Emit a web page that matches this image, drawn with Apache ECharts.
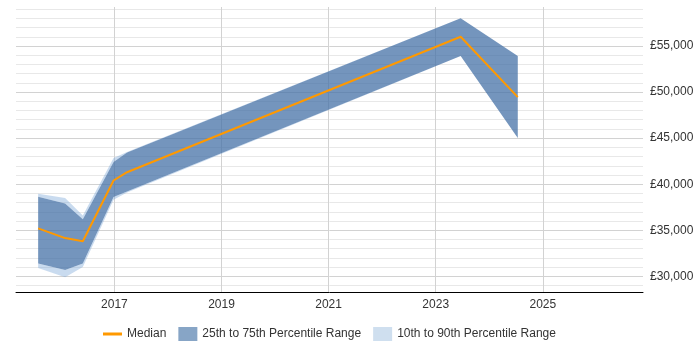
<!DOCTYPE html>
<html>
<head>
<meta charset="utf-8">
<script src="https://cdn.jsdelivr.net/npm/echarts@6/dist/echarts.min.js"></script>
<style>html,body{margin:0;padding:0;background:#fff}#c{width:700px;height:350px}</style>
</head>
<body>
<div id="c"></div>
<script>
const dates = ['2015-07-30','2016-01-30','2016-05-30','2016-12-26','2017-03-28','2023-06-20','2024-07-14'];
const p10 =    [30900, 29900, 31000, 38300, 39100, 53900, 45000];
const p25 =    [31400, 30700, 31400, 38600, 39200, 53900, 45000];
const median = [35200, 34150, 33800, 40400, 41300, 56000, 49450];
const p75 =    [38650, 37900, 36200, 42400, 43450, 58000, 53900];
const p90 =    [38950, 38500, 36600, 42850, 43500, 58000, 53900];
const xTickYears = [2017, 2019, 2021, 2023, 2025];
const yLabelValues = [30000, 35000, 40000, 45000, 50000, 55000];
const yGridValues = [29000,30000,31000,32000,33000,34000,35000,36000,37000,38000,39000,40000,41000,42000,43000,44000,45000,46000,47000,48000,49000,50000,51000,52000,53000,54000,55000,56000,57000,58000,59000];

// convert a date string to a fractional year for the value axis
function toYear(s) {
  const d = new Date(s + 'T00:00:00Z');
  const y = d.getUTCFullYear();
  const start = Date.UTC(y, 0, 1), end = Date.UTC(y + 1, 0, 1);
  return y + (d.getTime() - start) / (end - start);
}
const xs = dates.map(toYear);
const font = 'Liberation Sans, Arial, sans-serif';

// polygon between two value lines, drawn through the axes' scales
function poly(api, lo, hi, fill) {
  const top = xs.map((x, i) => api.coord([x, hi[i]]));
  const bottom = xs.map((x, i) => api.coord([x, lo[i]])).reverse();
  return {type: 'polygon', shape: {points: top.concat(bottom)}, style: {fill: fill}};
}

const lightFill = 'rgba(120,165,215,0.4)';
const darkFill = 'rgba(69,114,167,0.75)';

const chart = echarts.init(document.getElementById('c'), null, {renderer: 'canvas'});
chart.setOption({
  animation: false,
  grid: {left: 16, right: 57, top: 7, bottom: 58, containLabel: false},
  xAxis: {
    type: 'value',
    min: toYear('2015-03-01'), max: toYear('2026-11-15'),
    axisLine: {show: true, lineStyle: {color: '#000', width: 1}},
    axisTick: {show: false, customValues: xTickYears},
    axisLabel: {customValues: xTickYears, color: '#333', fontFamily: font, fontSize: 12, margin: 7,
      formatter: (v) => String(Math.round(v))},
    splitLine: {show: true, lineStyle: {color: '#d2d2d2', width: 1}}
  },
  yAxis: {
    type: 'value', position: 'right',
    min: 28300, max: 59230,
    axisLine: {show: false},
    axisTick: {show: false, customValues: yGridValues},
    axisLabel: {customValues: yLabelValues, color: '#333', fontFamily: font, fontSize: 12, margin: 7,
      formatter: (v) => '£' + v.toLocaleString('en-GB')},
    splitLine: {show: true, lineStyle: {color: ['#e8e8e8', '#d2d2d2', '#e8e8e8', '#e8e8e8', '#e8e8e8'], width: 1}}
  },
  legend: {
    bottom: 4, left: 98,
    itemWidth: 19, itemHeight: 14, itemGap: 12,
    textStyle: {color: '#333', fontFamily: font, fontSize: 12},
    data: [
      {name: 'Median', icon: 'path://M0,0H19V3H0Z', itemStyle: {color: '#ff9900'}},
      {name: '25th to 75th Percentile Range', icon: 'rect', itemStyle: {color: '#87a5c6'}},
      {name: '10th to 90th Percentile Range', icon: 'rect', itemStyle: {color: '#cfdfef'}}
    ]
  },
  series: [
    {
      type: 'custom', name: '10th to 90th Percentile Range', color: '#cfdfef',
      data: xs.map((x, i) => [x, p10[i], p90[i]]), encode: {x: 0, y: [1, 2]},
      renderItem: (params, api) => params.dataIndex !== 0 ? null : {
        type: 'group', children: [poly(api, p75, p90, lightFill), poly(api, p10, p25, lightFill)]
      }
    },
    {
      type: 'custom', name: '25th to 75th Percentile Range', color: '#87a5c6',
      data: xs.map((x, i) => [x, p25[i], p75[i]]), encode: {x: 0, y: [1, 2]},
      renderItem: (params, api) => params.dataIndex !== 0 ? null : poly(api, p25, p75, darkFill)
    },
    {type: 'line', name: 'Median', data: xs.map((x, i) => [x, median[i]]), symbol: 'none', color: '#ff9900',
      lineStyle: {color: '#ff9900', width: 2}}
  ]
});
</script>
</body>
</html>
